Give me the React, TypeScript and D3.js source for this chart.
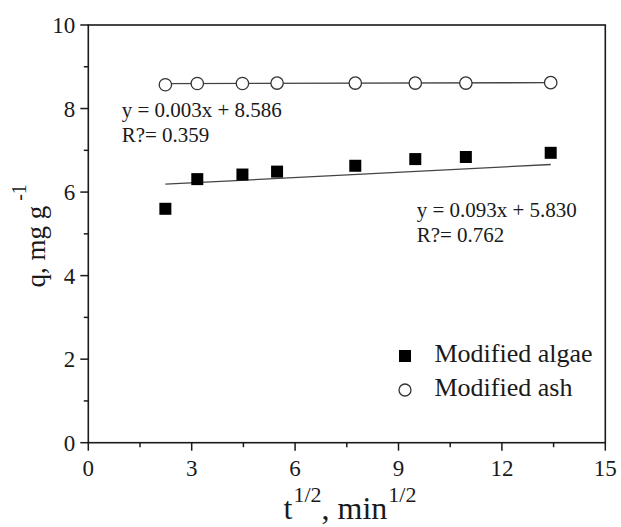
import React from "react";
import * as d3 from "d3";

const sqrtTime = [2.236, 3.162, 4.472, 5.477, 7.746, 9.487, 10.954, 13.416];
const algaeQ = [5.6, 6.31, 6.42, 6.49, 6.63, 6.79, 6.84, 6.94];
const ashQ = [8.57, 8.6, 8.6, 8.61, 8.61, 8.61, 8.61, 8.62];
const algaeFitX = [2.236, 13.416];
const algaeFitY = [6.19, 6.66];
const ashFitX = [2.236, 13.416];
const ashFitY = [8.595, 8.62];
const xTicks = [0, 3, 6, 9, 12, 15];
const yTicks = [0, 2, 4, 6, 8, 10];
const xMinor = [1.5, 4.5, 7.5, 10.5, 13.5];
const yMinor = [1, 3, 5, 7, 9];
const seriesNames = ["Modified algae", "Modified ash"];
const ashEq = ["y = 0.003x + 8.586", "R?= 0.359"];
const algaeEq = ["y = 0.093x + 5.830", "R?= 0.762"];

const W = 621;
const H = 527;
const M = { left: 88.3, right: 605.3, top: 25, bottom: 442.7 };
const FONT = "Liberation Serif, Times New Roman, DejaVu Serif, serif";
const INK = "#1a1a1a";

export default function App() {
  const x = d3.scaleLinear().domain([0, 15]).range([M.left, M.right]);
  const y = d3.scaleLinear().domain([0, 10]).range([M.bottom, M.top]);
  const line = d3
    .line<[number, number]>()
    .x((d) => x(d[0]))
    .y((d) => y(d[1]));
  const algaeFit = line(algaeFitX.map((v, i) => [v, algaeFitY[i]]) as [number, number][]);
  const ashFit = line(ashFitX.map((v, i) => [v, ashFitY[i]]) as [number, number][]);
  const sq = 12;
  const r = 6.2;
  const ts = { fontFamily: FONT };

  return (
    <div style={{ position: "absolute", left: 0, top: 0 }}>
      <svg width={W} height={H} style={{ display: "block", background: "#fff", fontFamily: FONT }}>
        <path d={ashFit || ""} fill="none" stroke="#444" strokeWidth={1.3} />
        <path d={algaeFit || ""} fill="none" stroke="#444" strokeWidth={1.3} />
        {sqrtTime.map((t, i) => (
          <circle key={"c" + i} cx={x(t)} cy={y(ashQ[i])} r={r} fill="#fff" stroke="#333" strokeWidth={1.3} />
        ))}
        {sqrtTime.map((t, i) => (
          <rect key={"s" + i} x={x(t) - sq / 2} y={y(algaeQ[i]) - sq / 2} width={sq} height={sq} fill="#000" />
        ))}
        <rect x={M.left} y={M.top} width={M.right - M.left} height={M.bottom - M.top} fill="none" stroke={INK} strokeWidth={1.6} />
        {xTicks.map((t) => (
          <g key={"xt" + t}>
            <line x1={x(t)} x2={x(t)} y1={M.bottom} y2={M.bottom + 8} stroke={INK} strokeWidth={1.5} />
            <text x={x(t)} y={M.bottom + 33} fontSize={23} textAnchor="middle" fill={INK} style={ts}>
              {t}
            </text>
          </g>
        ))}
        {xMinor.map((t) => (
          <line key={"xm" + t} x1={x(t)} x2={x(t)} y1={M.bottom} y2={M.bottom + 4.5} stroke={INK} strokeWidth={1.5} />
        ))}
        {yTicks.map((t) => (
          <g key={"yt" + t}>
            <line x1={M.left - 8} x2={M.left} y1={y(t)} y2={y(t)} stroke={INK} strokeWidth={1.5} />
            <text x={M.left - 13} y={y(t) + 8} fontSize={23} textAnchor="end" fill={INK} style={ts}>
              {t}
            </text>
          </g>
        ))}
        {yMinor.map((t) => (
          <line key={"ym" + t} x1={M.left - 4.5} x2={M.left} y1={y(t)} y2={y(t)} stroke={INK} strokeWidth={1.5} />
        ))}
        <text x={350} y={519} fontSize={32} textAnchor="middle" fill={INK} style={ts}>
          t<tspan fontSize={22} dx={1} dy={-17}>1/2</tspan>
          <tspan dy={17}>, min</tspan>
          <tspan fontSize={22} dx={1} dy={-17}>1/2</tspan>
        </text>
        <text transform={`translate(45, ${(M.top + M.bottom) / 2 + 2}) rotate(-90)`} fontSize={27} textAnchor="middle" fill={INK} style={ts}>
          q, mg g<tspan fontSize={20} dx={5} dy={-19}>-1</tspan>
        </text>
        <text x={121.7} y={117} fontSize={21} fill={INK} style={ts}>{ashEq[0]}</text>
        <text x={121.7} y={141.5} fontSize={21} fill={INK} style={ts}>{ashEq[1]}</text>
        <text x={416.7} y={217} fontSize={21} fill={INK} style={ts}>{algaeEq[0]}</text>
        <text x={416.7} y={241.5} fontSize={21} fill={INK} style={ts}>{algaeEq[1]}</text>
        <rect x={405 - 6} y={356 - 6} width={12} height={12} fill="#000" />
        <text x={434.5} y={362} fontSize={26} fill={INK} style={ts}>{seriesNames[0]}</text>
        <circle cx={405} cy={390} r={6} fill="#fff" stroke="#333" strokeWidth={1.3} />
        <text x={434.5} y={396} fontSize={26} fill={INK} style={ts}>{seriesNames[1]}</text>
      </svg>
    </div>
  );
}
